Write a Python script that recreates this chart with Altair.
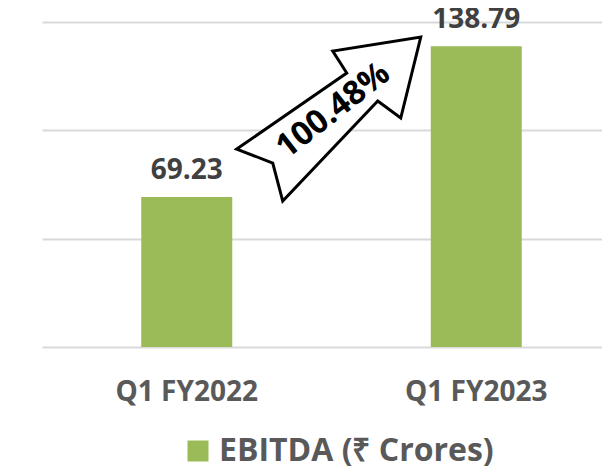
import math
import altair as alt
import pandas as pd

# ---- data ----
quarters = ["Q1 FY2022", "Q1 FY2023"]
ebitda = [69.23, 138.79]
value_labels = ["69.23", "138.79"]
series_name = "EBITDA (₹ Crores)"
growth_label = "100.48%"
y_ticks = [0, 50, 100, 150]

GREEN = "#9BBB59"
FONT = "Open Sans"

bars_df = pd.DataFrame({
    "quarter": quarters,
    "value": ebitda,
    "label": value_labels,
    "series": [series_name] * len(quarters),
})

# arrow annotation anchored at the first bar, halfway between the two values
arrow_df = pd.DataFrame({
    "quarter": [quarters[0]],
    "value": [(ebitda[0] + ebitda[1]) / 2],
    "label": [growth_label],
})

x_enc = alt.X(
    "quarter:N",
    sort=quarters,
    scale=alt.Scale(range=[0, 579], paddingInner=0.686, paddingOuter=0.343),
    axis=alt.Axis(
        title=None, labelAngle=0, ticks=False, domain=False,
        labelFont=FONT, labelFontWeight="bold", labelFontSize=28,
        labelColor="#595959", labelPadding=31,
    ),
)
y_enc = alt.Y(
    "value:Q",
    scale=alt.Scale(domain=[0, 150], nice=False, zero=True),
    axis=alt.Axis(
        title=None, labels=False, ticks=False, domain=False,
        values=y_ticks, grid=True, gridColor="#d9d9d9", gridWidth=2,
    ),
)

bars = alt.Chart(bars_df).mark_bar(size=91).encode(
    x=x_enc,
    y=y_enc,
    color=alt.Color(
        "series:N",
        scale=alt.Scale(range=[GREEN]),
        legend=alt.Legend(
            title=None, orient="none", legendX=140, legendY=413,
            direction="horizontal", symbolType="square", symbolSize=441,
            symbolStrokeWidth=0, labelFont=FONT, labelFontWeight="bold",
            labelFontSize=32, labelColor="#595959", labelOffset=5,
            padding=0, labelLimit=500,
        ),
    ),
)

labels = alt.Chart(bars_df).mark_text(
    font=FONT, fontWeight="bold", fontSize=28, color="#404040",
    baseline="middle", dy=-26,
).encode(x=alt.X("quarter:N", sort=quarters), y="value:Q", text="label:N")

ARROW_PATH = ("M50,27.4L160,-48.6L146,-70.6L234,-84.6L214,-3.6"
              "L191,-20.6L96,79.4L86,41.4Z")

arrow = alt.Chart(arrow_df).mark_point(
    shape=ARROW_PATH, size=4, filled=True, fill="white", stroke="black",
    strokeWidth=3, opacity=1, fillOpacity=1, strokeOpacity=1,
    strokeJoin="miter",
).encode(x=alt.X("quarter:N", sort=quarters), y="value:Q")

# text rotated along the arrow; offset expressed in the rotated frame
theta = -38.0
gx, gy = 146.5, -11.0
c, s = math.cos(math.radians(theta)), math.sin(math.radians(theta))
tdx = gx * c + gy * s
tdy = -gx * s + gy * c

arrow_text = alt.Chart(arrow_df).mark_text(
    font=FONT, fontWeight="bold", fontSize=33, color="black",
    angle=360 + theta, align="center", baseline="middle", dx=tdx, dy=tdy,
).encode(x=alt.X("quarter:N", sort=quarters), y="value:Q", text="label:N")

chart = alt.layer(bars, labels, arrow, arrow_text).properties(
    width=560, height=325,
    autosize=alt.AutoSizeParams(type="none"),
    padding={"left": 34, "top": 14, "right": 0, "bottom": 119},
).configure_view(stroke=None)

chart.save("out.html", embed_options={"renderer": "svg", "actions": False})
